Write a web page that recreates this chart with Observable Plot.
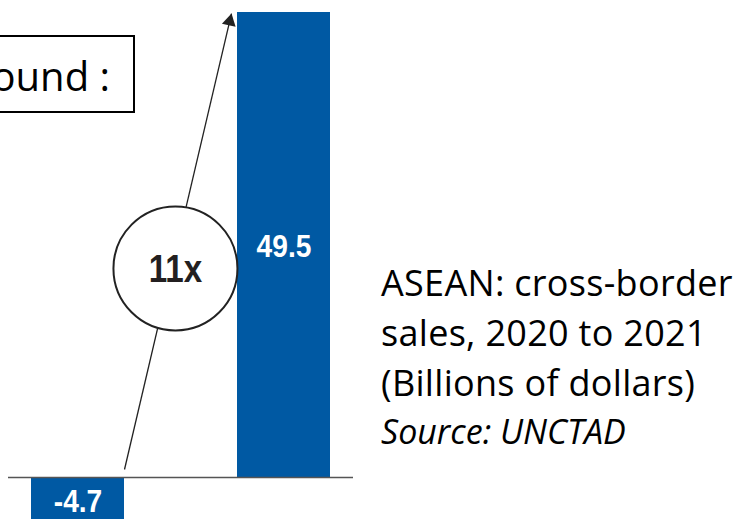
<!DOCTYPE html>
<html>
<head>
<meta charset="utf-8">
<script src="https://cdn.jsdelivr.net/npm/d3@7"></script>
<script src="https://cdn.jsdelivr.net/npm/@observablehq/plot@0.6"></script>
<style>
  html, body { margin: 0; padding: 0; background: #fff; overflow: hidden; }
  #chart { width: 749px; height: 519px; position: relative; overflow: hidden; }
</style>
</head>
<body>
<div id="chart"></div>
<script>
// ---- data ----
const years = ["2020", "2021"];
const values = [-4.7, 49.5];
const valueLabels = ["-4.7", "49.5"];
const growthLabel = "11x";
const captionLines = ["ASEAN: cross-border", "sales, 2020 to 2021", "(Billions of dollars)"];
const sourceNote = "Source: UNCTAD";
const boxText = "ound :";
// annotation anchors (data units: x = year index, y = billions of dollars)
const arrowStart = [0.2257, 0.85];
const arrowEnd = [0.7451, 49.39];
const badgeCenter = [0.473, 22.25];

const BLUE = "#0059a3";
const HALF = 0.2257; // half bar width in x units
const NUM_FONT = "'Liberation Sans', Arial, Helvetica, sans-serif";
const TEXT_FONT = "'Open Sans', 'Noto Sans', sans-serif";

const table = years.map((y, i) => ({year: y, i, value: values[i], label: valueLabels[i]}));
const arrow = [{x1: arrowStart[0], y1: arrowStart[1], x2: arrowEnd[0], y2: arrowEnd[1]}];
const badge = [{x: badgeCenter[0], y: badgeCenter[1], label: growthLabel}];

const chart = Plot.plot({
  width: 749,
  height: 519,
  marginTop: 0,
  marginBottom: 0,
  marginLeft: 8,
  marginRight: 396,
  x: {type: "linear", domain: [0, 1], range: [77.5, 283.5], axis: null},
  y: {type: "linear", domain: [0, 49.5], range: [477, 12], axis: null},
  marks: [
    Plot.rect(table, {x1: d => d.i - HALF, x2: d => d.i + HALF, y1: d => 0, y2: "value", fill: BLUE}),
    Plot.ruleY([0], {stroke: "#555", strokeWidth: 1.6}),
    Plot.link(arrow, {x1: "x1", y1: "y1", x2: "x2", y2: "y2", stroke: "#222", strokeWidth: 1.3}),
    Plot.dot(arrow, {x: "x2", y: "y2", dx: -1.8, dy: 7.8, symbol: "triangle", r: 5.2, rotate: 13.2, fill: "#222", stroke: "none"}),
    Plot.dot(badge, {x: "x", y: "y", r: 62, fill: "white", stroke: "#222", strokeWidth: 2}),
    Plot.text(badge, {x: "x", y: "y", text: "label", fontSize: 39, fontWeight: "bold", fill: "#231f20", fontFamily: NUM_FONT, dy: 1, className: "narrow85"}),
    Plot.text(table, {x: "i", y: d => d.value / 2, text: "label", fill: "white", fontSize: 32, fontWeight: "bold", fontFamily: NUM_FONT, dy: 2, className: "narrow88"})
  ]
});
chart.style.overflow = "hidden";
document.getElementById("chart").appendChild(chart);

// condensed look for the bold numerals (horizontal squeeze around each text's anchor)
function squeeze(sel, k) {
  d3.select(chart).selectAll(sel + " text").each(function () {
    const t = d3.select(this);
    const tr = t.attr("transform");
    if (tr) {
      t.attr("transform", `${tr} scale(${k},1)`);
    } else {
      const x = +t.attr("x") || 0, y = +t.attr("y") || 0;
      t.attr("transform", `translate(${x},${y}) scale(${k},1) translate(${-x},${-y})`);
    }
  });
}
squeeze(".narrow85", 0.85);
squeeze(".narrow88", 0.88);

// caption and clipped box (text, not marks)
const svg = d3.select(chart);
const g = svg.append("g").attr("font-family", TEXT_FONT)
  .attr("fill", "#000").attr("text-anchor", "start");
g.append("rect").attr("x", -10).attr("y", 36).attr("width", 144).attr("height", 76)
  .attr("fill", "white").attr("stroke", "#000").attr("stroke-width", 2);
g.append("text").attr("x", 110).attr("y", 91).attr("text-anchor", "end")
  .attr("font-size", 40).text(boxText);
captionLines.forEach((t, k) => {
  g.append("text").attr("x", 381).attr("y", 296 + k * 50).attr("font-size", 36)
    .attr("letter-spacing", 0.3).text(t);
});
g.append("text").attr("x", 381).attr("y", 444).attr("font-size", 34)
  .attr("font-style", "italic").text(sourceNote);
</script>
</body>
</html>
